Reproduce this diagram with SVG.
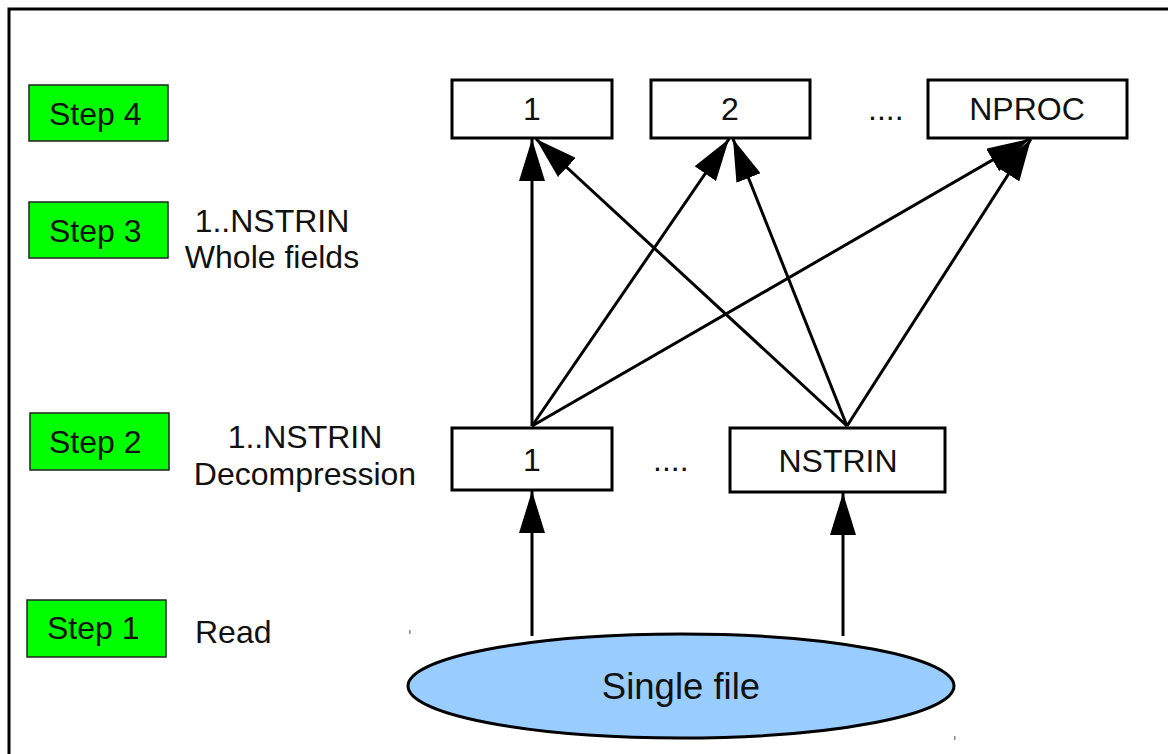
<svg xmlns="http://www.w3.org/2000/svg" width="1168" height="754" viewBox="0 0 1168 754">
  <defs>
    <marker id="arrow" viewBox="0 0 42 26" refX="42" refY="13" markerWidth="42" markerHeight="26" markerUnits="userSpaceOnUse" orient="auto">
      <path d="M0,0 L42,13 L0,26 Z" fill="#000"/>
    </marker>
    <style>
      text { font-family: "Liberation Sans", Arial, sans-serif; fill: #111; }
      .lbl { font-size: 32px; }
      .mid { text-anchor: middle; }
      .step rect { fill: #00ff00; stroke: #222; stroke-width: 1.5; }
      .box rect { fill: #fff; stroke: #000; stroke-width: 3; }
      .conn line { stroke: #000; stroke-width: 3; marker-end: url(#arrow); }
    </style>
  </defs>

  <rect width="1168" height="754" fill="#fff"/>
  <!-- outer frame (right and bottom edges run off the canvas) -->
  <path d="M9,760 L9,9 L1175,9" fill="none" stroke="#000" stroke-width="3"/>

  <!-- step markers -->
  <g id="step4" class="step"><rect x="29" y="85" width="139" height="56"/><text class="lbl" x="49" y="125">Step 4</text></g>
  <g id="step3" class="step"><rect x="29" y="202" width="139" height="56"/><text class="lbl" x="49" y="242">Step 3</text></g>
  <g id="step2" class="step"><rect x="30" y="413" width="139" height="57"/><text class="lbl" x="49" y="453">Step 2</text></g>
  <g id="step1" class="step"><rect x="27" y="600" width="139" height="57"/><text class="lbl" x="47" y="639">Step 1</text></g>

  <!-- step descriptions -->
  <g id="desc3"><text class="lbl mid" x="272" y="232">1..NSTRIN</text><text class="lbl mid" x="272" y="268">Whole fields</text></g>
  <g id="desc2"><text class="lbl mid" x="305" y="448">1..NSTRIN</text><text class="lbl mid" x="305" y="485">Decompression</text></g>
  <g id="desc1"><text class="lbl" x="195" y="643">Read</text></g>

  <!-- step 4: process boxes -->
  <g id="proc1" class="box"><rect x="452" y="80" width="160" height="58"/><text class="lbl mid" x="532" y="120">1</text></g>
  <g id="proc2" class="box"><rect x="651" y="80" width="159" height="58"/><text class="lbl mid" x="730" y="120">2</text></g>
  <g id="procdots"><text class="lbl" x="868" y="120">....</text></g>
  <g id="procN" class="box"><rect x="928" y="80" width="199" height="58"/><text class="lbl mid" x="1027" y="120">NPROC</text></g>

  <!-- step 2: stream boxes -->
  <g id="strin1" class="box"><rect x="452" y="428" width="160" height="62"/><text class="lbl mid" x="532" y="471">1</text></g>
  <g id="strindots"><text class="lbl" x="653" y="471">....</text></g>
  <g id="strinN" class="box"><rect x="730" y="428" width="215" height="64"/><text class="lbl mid" x="838" y="472">NSTRIN</text></g>

  <!-- step 1: input file -->
  <g id="file">
    <ellipse cx="681" cy="686" rx="273" ry="52" fill="#99ccff" stroke="#000" stroke-width="3"/>
    <text class="mid" x="681" y="699" font-size="36.5">Single file</text>
  </g>

  <!-- connectors -->
  <g id="connectors" class="conn">
    <line x1="532" y1="636" x2="532" y2="491"/>
    <line x1="843" y1="636" x2="843" y2="493"/>
    <line x1="532" y1="426" x2="532" y2="139"/>
    <line x1="532" y1="426" x2="729" y2="139"/>
    <line x1="532" y1="426" x2="1029" y2="139"/>
    <line x1="847" y1="426" x2="536" y2="139"/>
    <line x1="847" y1="426" x2="733" y2="139"/>
    <line x1="847" y1="426" x2="1031" y2="139"/>
  </g>

  <!-- small marks -->
  <rect x="409" y="630" width="1.5" height="4" fill="#888"/>
  <rect x="954" y="736" width="1.5" height="4" fill="#888"/>
</svg>
